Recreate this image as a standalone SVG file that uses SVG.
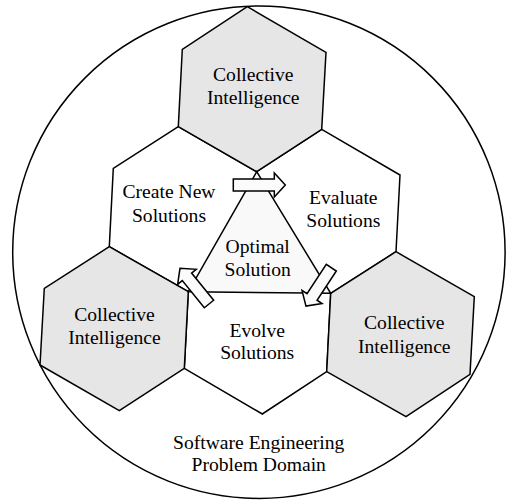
<svg xmlns="http://www.w3.org/2000/svg" width="513" height="502" viewBox="0 0 513 502">
<style>
.ln{stroke:#000;stroke-width:1.5;stroke-linejoin:miter}
.hex-w{fill:#fff}
.hex-g{fill:#e6e6e6}
.tri{fill:#f9f9f9}
.arr{fill:#fbfbfb;stroke:#000;stroke-width:1.5}
text{font-family:"Liberation Serif","Times New Roman",serif;font-size:19.6px;fill:#000;text-anchor:middle}
</style>
<defs>
<polygon id="arrL" points="0,-6 35,-6 35,-12 46,0 35,12 35,6 0,6"/>
<polygon id="arrT" points="0,-6 41,-6 41,-12 52,0 41,12 41,6 0,6"/>
</defs>
<rect width="513" height="502" fill="#fff"/>
<g id="domain">
<circle cx="258.9" cy="252.2" r="246.2" fill="#fff" class="ln"/>
<text x="258.7" y="449.3">Software Engineering</text>
<text x="258.7" y="470.7">Problem Domain</text>
</g>
<g id="create">
<polygon class="ln hex-w" points="178.3,126.7 256.7,171.7 252.7,249 188.3,291.7 109.3,246.7 113.3,168.3"/>
<text x="169" y="198.3">Create New</text>
<text x="169" y="221.7">Solutions</text>
</g>
<g id="evaluate">
<polygon class="ln hex-w" points="321.7,129.3 400,175 396,251.7 330.7,293.3 252.7,249 256.7,171.7"/>
<text x="343.3" y="204">Evaluate</text>
<text x="343.3" y="227.3">Solutions</text>
</g>
<g id="evolve">
<polygon class="ln hex-w" points="252.7,249 330.7,293.3 326.7,371.7 262.3,414 184.3,368.3 188.3,291.7"/>
<text x="257.2" y="336.7">Evolve</text>
<text x="257.2" y="359.3">Solutions</text>
</g>
<g id="ci-top">
<polygon class="ln hex-g" points="247.3,6.7 326,52.3 321.7,129.3 256.7,171.7 178.3,126.7 182.3,49.3"/>
<text x="253.3" y="80.7">Collective</text>
<text x="253.3" y="104">Intelligence</text>
</g>
<g id="ci-left">
<polygon class="ln hex-g" points="109.3,246.7 188.3,291.7 184.3,368.3 119.3,410.7 40,365 44.3,288.3"/>
<text x="114.4" y="320.7">Collective</text>
<text x="114.4" y="344">Intelligence</text>
</g>
<g id="ci-right">
<polygon class="ln hex-g" points="396,251.7 474.3,296.7 470,374.3 406,416.7 326.7,371.7 330.7,293.3"/>
<text x="404.3" y="329.3">Collective</text>
<text x="404.3" y="352.7">Intelligence</text>
</g>
<g id="optimal">
<polygon class="ln tri" points="256.7,171.7 330.7,293.3 188.3,291.7"/>
<text x="257.7" y="252.7">Optimal</text>
<text x="257.7" y="276">Solution</text>
</g>
<g id="connectors">
<use href="#arrT" class="arr" transform="translate(233.3,185)"/>
<use href="#arrL" class="arr" transform="translate(331.3,267.7) rotate(123.4)"/>
<use href="#arrL" class="arr" transform="translate(209,304) rotate(-129.1)"/>
</g>
</svg>
